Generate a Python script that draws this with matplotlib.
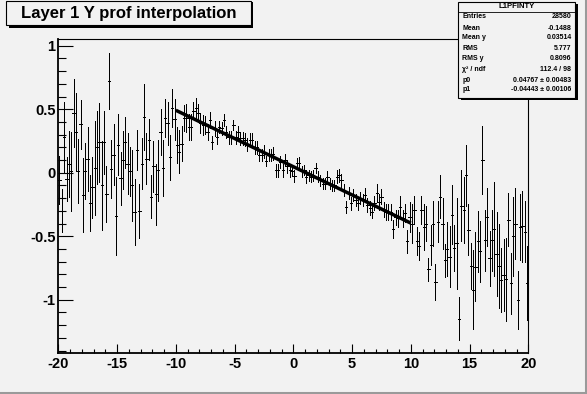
import numpy as np
import matplotlib
matplotlib.use("Agg")
from matplotlib import pyplot as plt
from matplotlib.patches import Rectangle
from matplotlib.lines import Line2D

# profile L1PFINTY : 200 bins from -20 to 20
x_min, x_max, n_bins = -20.0, 20.0, 200

prof_left = [-0.06, -0.30, 0.28, -0.05, 0.07, 0.01, 0.47, 0.32, 0.015, 0.38,
             -0.175, 0.015, 0.11, -0.24, -0.115, 0.04, 0.20, 0.24, -0.10, 0.24,
             -0.17, 0.72, 0.03, 0.14, -0.34, 0.22, -0.045, 0.10, 0.24, 0.07,
             0.01, -0.10, -0.31, 0.18, -0.30, 0.07, 0.44, 0.11, 0.26, -0.19,
             0.05, -0.17, 0.02, 0.32, 0.04, 0.43, 0.39, 0.12, 0.51, 0.42]
err_left = [0.19, 0.17, 0.28, 0.17, 0.26, 0.31, 0.27, 0.31, 0.25, 0.19,
            0.29, 0.22, 0.25, 0.22, 0.24, 0.37, 0.29, 0.31, 0.35, 0.25,
            0.22, 0.22, 0.23, 0.24, 0.31, 0.24, 0.21, 0.23, 0.20, 0.24,
            0.19, 0.28, 0.26, 0.16, 0.21, 0.20, 0.26, 0.20, 0.16, 0.17,
            0.20, 0.24, 0.24, 0.18, 0.22, 0.15, 0.17, 0.18, 0.15, 0.16]

prof_mid = [0.22, 0.165, 0.23, 0.43, 0.43, 0.36, 0.36, 0.49, 0.51, 0.47,
            0.39, 0.375, 0.375, 0.32, 0.415, 0.24, 0.35, 0.28, 0.36, 0.35,
            0.415, 0.32, 0.28, 0.28, 0.375, 0.28, 0.32, 0.27, 0.27, 0.26,
            0.22, 0.26, 0.26, 0.20, 0.20, 0.14, 0.14, 0.165, 0.09, 0.14,
            0.14, 0.15, 0.02, 0.02, 0.085, 0.02, 0.10, 0.05, 0.02, 0.015,
            -0.025, 0.075, 0.075, 0.01, 0.02, -0.03, -0.02, -0.03, -0.02, 0.035,
            -0.03, -0.06, -0.085, -0.085, -0.03, -0.085, -0.10, -0.10, -0.03, -0.02,
            -0.06, -0.135, -0.27, -0.16, -0.24, -0.175, -0.215, -0.24, -0.20, -0.215,
            -0.175, -0.255, -0.28, -0.31, -0.24, -0.16, -0.23, -0.19, -0.29, -0.31,
            -0.31, -0.31, -0.44, -0.35, -0.36, -0.27, -0.36, -0.32, -0.54, -0.35]
err_mid = [0.14, 0.17, 0.14, 0.10, 0.11, 0.10, 0.10, 0.07, 0.08, 0.07,
           0.08, 0.08, 0.07, 0.06, 0.06, 0.05, 0.06, 0.05, 0.05, 0.05,
           0.05, 0.05, 0.05, 0.05, 0.04, 0.05, 0.05, 0.05, 0.05, 0.05,
           0.05, 0.05, 0.05, 0.05, 0.05, 0.05, 0.05, 0.05, 0.04, 0.05,
           0.05, 0.05, 0.05, 0.05, 0.05, 0.05, 0.05, 0.05, 0.05, 0.04,
           0.045, 0.04, 0.045, 0.04, 0.04, 0.05, 0.045, 0.045, 0.045, 0.04,
           0.045, 0.045, 0.04, 0.045, 0.04, 0.045, 0.045, 0.045, 0.05, 0.05,
           0.05, 0.05, 0.05, 0.05, 0.05, 0.05, 0.05, 0.05, 0.05, 0.05,
           0.055, 0.055, 0.055, 0.05, 0.055, 0.07, 0.065, 0.06, 0.06, 0.06,
           0.06, 0.06, 0.07, 0.06, 0.065, 0.09, 0.07, 0.07, 0.09, 0.12]

prof_right = [-0.40, -0.29, -0.54, -0.58, -0.29, -0.425, -0.40, -0.76, -0.57, -0.40,
              -0.86, -0.385, -0.19, -0.40, -0.69, -0.60, -0.66, -0.33, -0.595, -0.555,
              -1.15, -0.26, -0.29, -0.02, -0.45, -0.735, -0.92, -0.74, -0.54, -0.62,
              0.10, -0.53, -0.35, -0.675, -0.53, -0.445, -0.64, -0.735, -0.845, -0.805,
              -0.84, -0.37, -0.87, -0.50, -0.40, -1.00, -0.425, -0.42, -0.465, -0.87]
err_right = [0.15, 0.11, 0.11, 0.11, 0.11, 0.18, 0.14, 0.09, 0.16, 0.18,
             0.14, 0.16, 0.17, 0.20, 0.13, 0.21, 0.24, 0.23, 0.18, 0.36,
             0.17, 0.28, 0.26, 0.24, 0.20, 0.18, 0.31, 0.27, 0.24, 0.24,
             0.27, 0.24, 0.23, 0.22, 0.24, 0.37, 0.33, 0.33, 0.25, 0.28,
             0.33, 0.21, 0.24, 0.31, 0.28, 0.23, 0.26, 0.28, 0.24, 0.29]

# pol1 fit shown in the stats box
fit_range = [-10.0, 10.0]
p0, p0_err = 0.04767, 0.00483
p1, p1_err = -0.04443, 0.00106

stat_labels = ["Entries", "Mean", "Mean y", "RMS", "RMS y", "\u03c7\u00b2 / ndf", "p0", "p1"]
stat_values = ["28580", "-0.1488", "0.03514", "5.777", "0.8096", "112.4 / 98",
               f"{p0} \u00b1 {p0_err}", f"{p1} \u00b1 {p1_err}"]

W, H = 587, 394
BG = "#f2f2f2"
FONT = "Liberation Sans"

def px(x):
    return x / W

def py(y):
    # y measured from top of the image
    return 1 - y / H


fig = plt.figure(figsize=(W / 100, H / 100), dpi=100, facecolor=BG)
ax = fig.add_axes([px(58.3), py(352.7), px(470), (352.7 - 39) / H])
ax.set_facecolor(BG)

values = np.array(prof_left + prof_mid + prof_right)
errors = np.array(err_left + err_mid + err_right)
edges = np.linspace(x_min, x_max, n_bins + 1)
centers = 0.5 * (edges[:-1] + edges[1:])
half_w = 0.5 * (edges[1] - edges[0])

eb = ax.errorbar(centers, values, yerr=errors, xerr=half_w, fmt="none",
                 ecolor="black", elinewidth=0.72, capsize=0, zorder=2)
for lc in eb.lines[2]:
    lc.set_antialiased(False)

fx = np.array(fit_range)
ax.plot(fx, p0 + p1 * fx, color="black", lw=2.5, zorder=3, solid_capstyle="butt")

ax.set_xlim(x_min, x_max)
ax.set_ylim(-1.417, 1.053)
ax.set_xticks(np.arange(-20, 21, 5))
ax.set_xticks(np.arange(-20, 21, 1), minor=True)
ax.set_yticks([-1, -0.5, 0, 0.5, 1])
ax.set_yticklabels(["-1", "-0.5", "0", "0.5", "1"])
ax.set_yticks(np.arange(-1.4, 1.05, 0.1), minor=True)
ax.set_xticklabels([str(v) for v in range(-20, 21, 5)])

ax.tick_params(axis="x", which="major", direction="in", length=6.5, width=0.8, pad=3)
ax.tick_params(axis="x", which="minor", direction="in", length=3.2, width=0.8)
ax.tick_params(axis="y", which="major", direction="in", length=10.8, width=0.8, pad=2)
ax.tick_params(axis="y", which="minor", direction="in", length=5.4, width=0.8)
for lab in ax.get_xticklabels() + ax.get_yticklabels():
    lab.set_fontfamily(FONT)
    lab.set_fontweight("bold")
    lab.set_fontsize(10.5)
for s in ax.spines.values():
    s.set_linewidth(0.8)
ax.spines["bottom"].set_linewidth(1.3)
ax.spines["left"].set_linewidth(1.3)

# title box with shadow
fig.patches.append(Rectangle((px(8.5), py(27.5)), px(244.5), 25.5 / H, transform=fig.transFigure,
                             facecolor="black", edgecolor="none", zorder=5))
fig.patches.append(Rectangle((px(6), py(25)), px(244.5), 23.5 / H, transform=fig.transFigure,
                             facecolor=BG, edgecolor="black", lw=0.8, zorder=6))
fig.text(px(128.3), py(13.5), "Layer 1 Y prof interpolation", ha="center", va="center",
         fontsize=12, fontweight="bold", family=FONT, zorder=7)

# stats box
bx0, bx1, by0, by1 = 458, 575, 1.7, 97.7
fig.patches.append(Rectangle((px(bx0 + 2.5), py(by1 + 2.5)), px(bx1 - bx0), (by1 - by0) / H,
                             transform=fig.transFigure, facecolor="black", edgecolor="none", zorder=5))
fig.patches.append(Rectangle((px(bx0), py(by1)), px(bx1 - bx0), (by1 - by0) / H,
                             transform=fig.transFigure, facecolor=BG, edgecolor="black", lw=0.8, zorder=6))
fig.lines.append(Line2D([px(bx0), px(bx1)], [py(11.7), py(11.7)], transform=fig.transFigure,
                        color="black", lw=0.6, zorder=7))
fig.text(px((bx0 + bx1) / 2), py(6.5), "L1PFINTY", ha="center", va="center",
         fontsize=5.6, fontweight="bold", family=FONT, zorder=7)
row_y = [16, 28.5, 37.5, 48.5, 58, 69.5, 80.5, 89.5]
for lab, val, yy in zip(stat_labels, stat_values, row_y):
    fig.text(px(462.5), py(yy), lab, ha="left", va="center", fontsize=5.0,
             fontweight="bold", family=FONT, zorder=7)
    fig.text(px(571.5), py(yy), val, ha="right", va="center", fontsize=5.0,
             fontweight="bold", family=FONT, zorder=7)

# canvas 3D border
fig.lines.append(Line2D([0, 1], [py(392.5), py(392.5)], transform=fig.transFigure,
                        color="#9a9a9a", lw=2.2))
fig.lines.append(Line2D([px(585.5), px(585.5)], [0, 1], transform=fig.transFigure,
                        color="#9a9a9a", lw=2.2))

fig.savefig("out.png", dpi=100, facecolor=BG)
